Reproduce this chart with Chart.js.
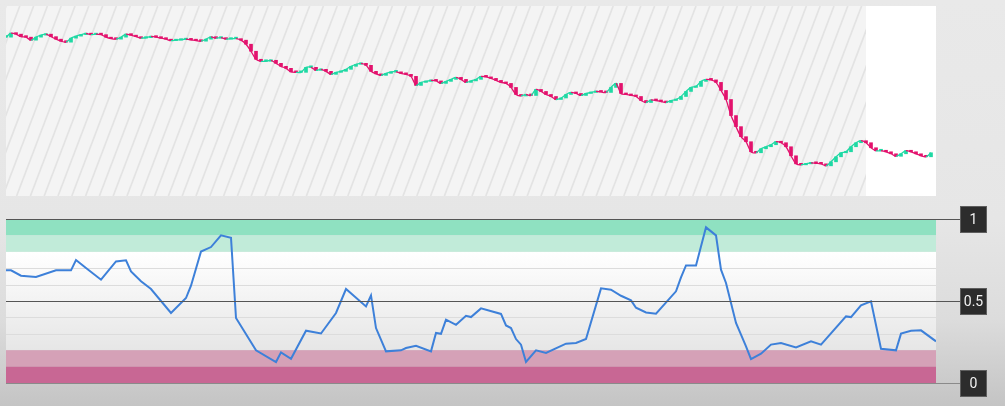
<!DOCTYPE html>
<html>
<head>
<meta charset="utf-8">
<script src="https://cdn.jsdelivr.net/npm/chart.js@4.4.1/dist/chart.umd.min.js"></script>
<style>
	html, body { margin: 0; padding: 0; }
	body {
		width: 1005px; height: 406px; overflow: hidden; position: relative;
		background: linear-gradient(to bottom, #e9e9e9 0px, #e6e6e6 220px, #dcdcdc 320px, #c4c4c4 406px);
		font-family: Roboto, "DejaVu Sans", sans-serif;
	}
	#priceChart { position: absolute; left: 6px; top: 6px; }
	#oscChart { position: absolute; left: 0; top: 200px; }
</style>
</head>
<body>
<canvas id="priceChart" width="930" height="190"></canvas>
<canvas id="oscChart" width="1005" height="206"></canvas>
<script>
// closing prices, one per bar (bar index 0..185)
var closes = [
	162, 166, 165, 162.5, 162, 159, 162, 164, 165, 162.5,
	160, 158, 157, 161, 163, 164.5, 165.7, 164.5, 165, 164.5,
	162, 160.5, 160, 162, 165, 164, 162.5, 161, 161.5, 162.7,
	162, 161, 160, 158.5, 159, 159.5, 160, 159.3, 158.5, 158,
	160, 162.3, 161, 161.5, 160, 160.5, 160.5, 159, 155, 148,
	140, 138, 138, 139, 136, 133, 131, 127.5, 127, 127,
	132, 132, 129, 130, 128, 125, 127, 128, 130, 133,
	135, 136, 134, 128, 125.5, 124, 126, 127.5, 127.5, 126,
	125, 123, 114, 117, 118, 119, 118.5, 116, 118, 120,
	122, 120, 117, 118.5, 120, 123, 122.5, 121, 119, 117,
	116, 112, 105, 103.5, 105, 104, 110, 108, 105, 103,
	100, 101.5, 105, 107, 106, 104, 106, 107, 108, 107.5,
	107, 112, 116, 106, 105, 104, 103, 99, 97, 99.5,
	99, 98, 97, 99, 100, 103, 108, 112, 113, 118,
	120, 119.5, 117, 109, 100, 84, 73, 63, 58, 48,
	47, 51, 53, 55, 58, 57, 53, 44, 36, 35,
	36, 37, 36.5, 36, 34, 38, 43, 47, 48, 53,
	57, 59, 57, 52, 49, 49, 48, 46, 43.5, 46,
	49, 48, 46, 44, 43, 47
];
var historyEnd = 172; // bars after this are in the plain (unshaded) zone

// oscillator: bar index and value
var oscIndex = [0, 1, 3, 6, 10, 13, 14, 16, 19, 22, 24, 25, 27, 29, 33, 36, 37, 39, 41, 43,
	45, 46, 50, 54, 55, 57, 60, 63, 66, 68, 72, 73, 74, 76, 79, 80, 82, 85, 86, 87,
	88, 90, 92, 93, 95, 99, 100, 101, 102, 103, 104, 106, 108, 112, 114, 116, 119, 121, 123, 125,
	126, 128, 130, 134, 135, 136, 138, 140, 142, 143, 144, 146, 147, 148, 149, 151, 153, 155, 158, 161,
	163, 168, 169, 171, 173, 175, 178, 179, 181, 183, 186];
var oscValues = [0.687, 0.687, 0.654, 0.646, 0.687, 0.687, 0.750, 0.701, 0.630, 0.741, 0.748, 0.680, 0.620, 0.573, 0.427, 0.518, 0.593, 0.802, 0.829, 0.900,
	0.886, 0.396, 0.199, 0.128, 0.187, 0.148, 0.319, 0.302, 0.427, 0.573, 0.467, 0.534, 0.335, 0.193, 0.199, 0.213, 0.227, 0.193, 0.305, 0.300,
	0.386, 0.355, 0.410, 0.402, 0.455, 0.421, 0.351, 0.335, 0.268, 0.234, 0.128, 0.199, 0.183, 0.240, 0.244, 0.268, 0.577, 0.569, 0.532, 0.504,
	0.459, 0.430, 0.423, 0.559, 0.644, 0.717, 0.717, 0.949, 0.900, 0.691, 0.610, 0.366, 0.295, 0.223, 0.146, 0.179, 0.234, 0.244, 0.217, 0.254,
	0.234, 0.406, 0.402, 0.473, 0.498, 0.209, 0.199, 0.301, 0.319, 0.321, 0.254];
var oscLevels = [1, 0.5, 0];

var UP = "#1fd9a4", DOWN = "#e3126d";

// build the bars (open = previous close)
var candles = [], lineData = [], barColors = [];
for (var i = 0; i < closes.length; i++) {
	var open = i == 0 ? closes[0] : closes[i - 1];
	candles.push({x: i, y: [open, closes[i]]});
	lineData.push({x: i, y: closes[i]});
	barColors.push(closes[i] >= open ? UP : DOWN);
}

//draws the hatched background of the price panel
var hatchPlugin = {
	id: "hatch",
	beforeDraw: function(chart){
		var c = chart.ctx, a = chart.chartArea;
		var xEnd = chart.scales.x.getPixelForValue(historyEnd);
		c.save();
		c.fillStyle = "#ffffff";
		c.fillRect(a.left, a.top, a.right - a.left, a.bottom - a.top);
		c.fillStyle = "#f4f4f4";
		c.fillRect(a.left, a.top, xEnd - a.left, a.bottom - a.top);
		c.beginPath();
		c.rect(a.left, a.top, xEnd - a.left, a.bottom - a.top);
		c.clip();
		c.strokeStyle = "#e3e3e3";
		c.lineWidth = 1.7;
		var h = a.bottom - a.top, dx = h * 0.38;
		for (var x = a.left - dx; x < xEnd + 14; x += 13.8) {
			c.beginPath();
			c.moveTo(x, a.bottom);
			c.lineTo(x + dx, a.top);
			c.stroke();
		}
		c.restore();
	}
};

new Chart(document.getElementById("priceChart").getContext("2d"), {
	type: "bar",
	data: {
		datasets: [
			{
				type: "line",
				data: lineData,
				borderWidth: 1.3,
				pointRadius: 0,
				tension: 0.3,
				segment: {
					borderColor: function(ctx){ return ctx.p1.parsed.y >= ctx.p0.parsed.y ? UP : DOWN; }
				}
			},
			{
				data: candles,
				backgroundColor: barColors,
				barThickness: 3,
				minBarLength: 1.5
			}
		]
	},
	options: {
		responsive: false,
		animation: false,
		layout: {padding: 0},
		plugins: {legend: {display: false}, tooltip: {enabled: false}},
		scales: {
			x: {type: "linear", display: false, min: 0, max: 186, offset: false},
			y: {display: false, min: 4, max: 193}
		}
	},
	plugins: [hatchPlugin]
});

//bands, reference lines and level boxes of the oscillator panel
var bandPlugin = {
	id: "bands",
	beforeDatasetsDraw: function(chart){
		var c = chart.ctx, a = chart.chartArea, y = chart.scales.y;
		var w = a.right - a.left;
		c.save();
		var g = c.createLinearGradient(0, y.getPixelForValue(0.8), 0, y.getPixelForValue(0.2));
		g.addColorStop(0, "#ffffff");
		g.addColorStop(1, "#e6e6e6");
		c.fillStyle = g;
		c.fillRect(a.left, y.getPixelForValue(0.8), w, y.getPixelForValue(0.2) - y.getPixelForValue(0.8));

		var bands = [[1, 0.9, "#8fe1c1"], [0.9, 0.8, "#c1ebd9"], [0.2, 0.1, "#d5a1b7"], [0.1, 0, "#c86794"]];
		for (var i = 0; i < bands.length; i++) {
			c.fillStyle = bands[i][2];
			var t = y.getPixelForValue(bands[i][0]), b = y.getPixelForValue(bands[i][1]);
			c.fillRect(a.left, t, w, b - t);
		}

		c.strokeStyle = "#dcdcdc";
		c.lineWidth = 1;
		[0.7, 0.6, 0.4, 0.3].forEach(function(v){
			var py = Math.round(y.getPixelForValue(v)) + 0.5;
			c.beginPath(); c.moveTo(a.left, py); c.lineTo(a.right, py); c.stroke();
		});
		c.restore();
	},
	afterDraw: function(chart){
		var c = chart.ctx, a = chart.chartArea, y = chart.scales.y;
		c.save();
		for (var i = 0; i < oscLevels.length; i++) {
			var py = Math.round(y.getPixelForValue(oscLevels[i])) + 0.5;
			c.strokeStyle = oscLevels[i] == 0 ? "#8a8a8a" : "#555555";
			c.lineWidth = 1;
			c.beginPath(); c.moveTo(a.left, py); c.lineTo(960, py); c.stroke();

			c.fillStyle = "#2c2c2c";
			c.fillRect(960, py - 13.5, 27, 27);
			c.strokeStyle = "#5e5e5e";
			c.strokeRect(960.5, py - 13, 26, 26);
			c.fillStyle = "#f2f2f2";
			c.font = "14px Roboto";
			c.textAlign = "center";
			c.textBaseline = "middle";
			c.fillText(String(oscLevels[i]), 973.5, py + 0.5);
		}
		c.restore();
	}
};

new Chart(document.getElementById("oscChart").getContext("2d"), {
	type: "line",
	data: {
		datasets: [{
			data: oscIndex.map(function(x, i){ return {x: x, y: oscValues[i]}; }),
			borderColor: "#3d80d9",
			borderWidth: 2,
			pointRadius: 0,
			tension: 0
		}]
	},
	options: {
		responsive: false,
		animation: false,
		layout: {padding: {left: 6, right: 69, top: 19, bottom: 23}},
		plugins: {legend: {display: false}, tooltip: {enabled: false}},
		scales: {
			x: {type: "linear", display: false, min: 0, max: 186},
			y: {display: false, min: 0, max: 1}
		}
	},
	plugins: [bandPlugin]
});
</script>
</body>
</html>
